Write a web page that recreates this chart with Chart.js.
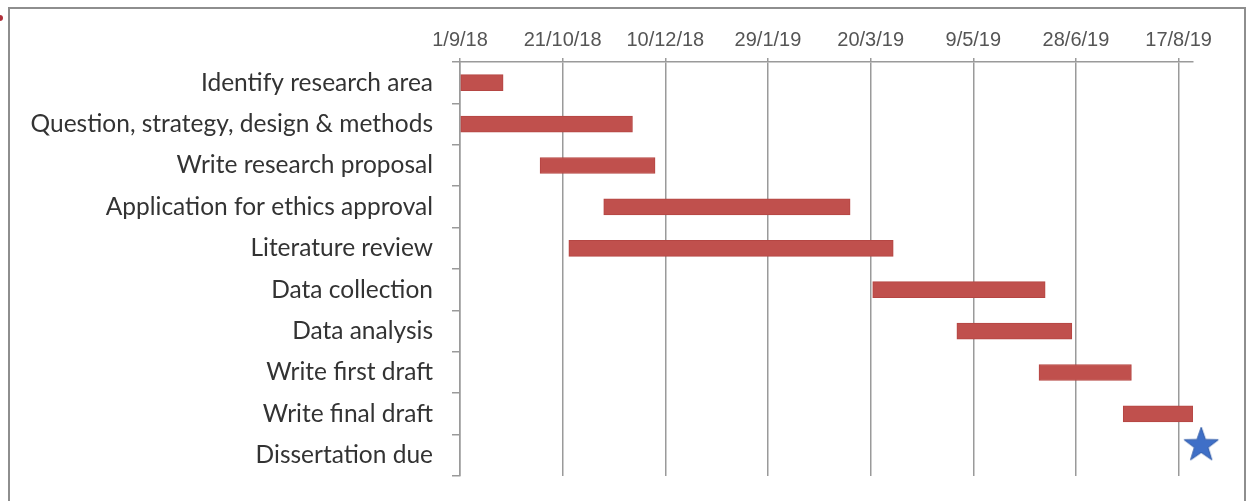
<!DOCTYPE html>
<html>
<head>
<meta charset="utf-8">
<title>Dissertation timeline</title>
<script src="https://cdn.jsdelivr.net/npm/chart.js@4/dist/chart.umd.min.js"></script>
<style>
  html, body { margin: 0; padding: 0; background: #fff; overflow: hidden; }
  #wrap { position: relative; width: 1258px; height: 501px; }
  #frame {
    position: absolute; left: 8px; top: 7px; width: 1238px; height: 600px;
    border: 2px solid #8e8e8e; box-sizing: border-box;
  }
  #handle {
    position: absolute; left: -3px; top: 15px; width: 6px; height: 6px;
    border-radius: 50%; background: #b0303a;
  }
  #gantt { position: absolute; left: 0; top: 0; }
</style>
</head>
<body>
<div id="wrap">
  <div id="frame"></div>
  <div id="handle"></div>
  <canvas id="gantt" width="1258" height="501"></canvas>
</div>
<script>
// tasks, top to bottom
const tasks = [
  "Identify research area",
  "Question, strategy, design & methods",
  "Write research proposal",
  "Application for ethics approval",
  "Literature review",
  "Data collection",
  "Data analysis",
  "Write first draft",
  "Write final draft",
  "Dissertation due"
];
const startDates = [
  "2018-09-01", "2018-09-01", "2018-10-10", "2018-11-10", "2018-10-24",
  "2019-03-21", "2019-05-01", "2019-06-10", "2019-07-21", null
];
const endDates = [
  "2018-09-22", "2018-11-24", "2018-12-05", "2019-03-10", "2019-03-31",
  "2019-06-13", "2019-06-26", "2019-07-25", "2019-08-24", null
];
const dueDate = "2019-08-28";
const tickLabels = ["1/9/18", "21/10/18", "10/12/18", "29/1/19", "20/3/19", "9/5/19", "28/6/19", "17/8/19"];
const axisEnd = "2019-08-24";

const DAY = 86400000;
const origin = Date.UTC(2018, 8, 1);
const toDay = s => Math.round((Date.parse(s + "T00:00:00Z") - origin) / DAY);
const labelToDay = s => {
  const [d, m, y] = s.split("/").map(Number);
  return Math.round((Date.UTC(2000 + y, m - 1, d) - origin) / DAY);
};
const tickDays = tickLabels.map(labelToDay);

const spans = startDates.map((s, i) => s ? [toDay(s), toDay(endDates[i])] : null);

// filled five point star used as the milestone marker
function starImage(r, color, edge) {
  const c = document.createElement("canvas");
  c.width = 2 * r + 2;
  c.height = 2 * r + 22;
  const g = c.getContext("2d");
  const cx = r + 1, cy = r + 1;
  g.beginPath();
  for (let k = 0; k < 10; k++) {
    const rad = k % 2 ? r * 0.4 : r;
    const a = -Math.PI / 2 + k * Math.PI / 5;
    g.lineTo(cx + rad * Math.cos(a), cy + rad * Math.sin(a));
  }
  g.closePath();
  g.fillStyle = color;
  g.fill();
  g.strokeStyle = edge;
  g.lineWidth = 1;
  g.stroke();
  return c;
}

function draw() {
  new Chart(document.getElementById("gantt"), {
    type: "bar",
    data: {
      labels: tasks,
      datasets: [
        {
          type: "scatter",
          data: [{ x: toDay(dueDate), y: tasks[tasks.length - 1] }],
          pointStyle: starImage(18, "#3f6fc7", "#2f5aa8"),
          // large radius so the marker is not culled just past the plot edge
          pointRadius: 24,
          clip: false,
          order: 0
        },
        {
          data: spans,
          backgroundColor: "#c0504d",
          borderColor: "#b54643",
          borderWidth: 1,
          borderSkipped: false,
          barThickness: 16,
          order: 1
        }
      ]
    },
    options: {
      indexAxis: "y",
      animation: false,
      responsive: false,
      layout: { padding: { left: 10, top: 8, right: 65, bottom: 23 } },
      plugins: { legend: { display: false }, tooltip: { enabled: false } },
      scales: {
        x: {
          type: "linear",
          position: "top",
          min: 0,
          max: toDay(axisEnd),
          afterBuildTicks: scale => { scale.ticks = tickDays.map(v => ({ value: v })); },
          afterFit: scale => { scale.height = 54; },
          ticks: {
            callback: (v) => tickLabels[tickDays.indexOf(v)],
            font: { family: "'Liberation Sans', Arial, sans-serif", size: 20 },
            color: "#555",
            padding: 6,
            maxRotation: 0
          },
          grid: { color: "#9a9a9a", lineWidth: 1.5, tickLength: 4 },
          border: { display: true, color: "#9a9a9a", width: 1.5 }
        },
        y: {
          type: "category",
          afterFit: scale => {
            scale.width = 450;
            // rows are offset, so labels never spill past the plot edges
            scale.paddingTop = 0;
            scale.paddingBottom = 0;
          },
          ticks: {
            font: { family: "Lato, 'Open Sans', sans-serif", size: 24.5 },
            color: "#333",
            padding: 19
          },
          grid: { drawOnChartArea: false, drawTicks: true, tickLength: 8, offset: true, color: "#9a9a9a", lineWidth: 1.5 },
          border: { display: true, color: "#9a9a9a", width: 1.5 }
        }
      }
    }
  });
}

Promise.all([
  document.fonts.load("24px Lato"),
  document.fonts.load("20px 'Liberation Sans'")
]).then(draw, draw);
</script>
</body>
</html>
